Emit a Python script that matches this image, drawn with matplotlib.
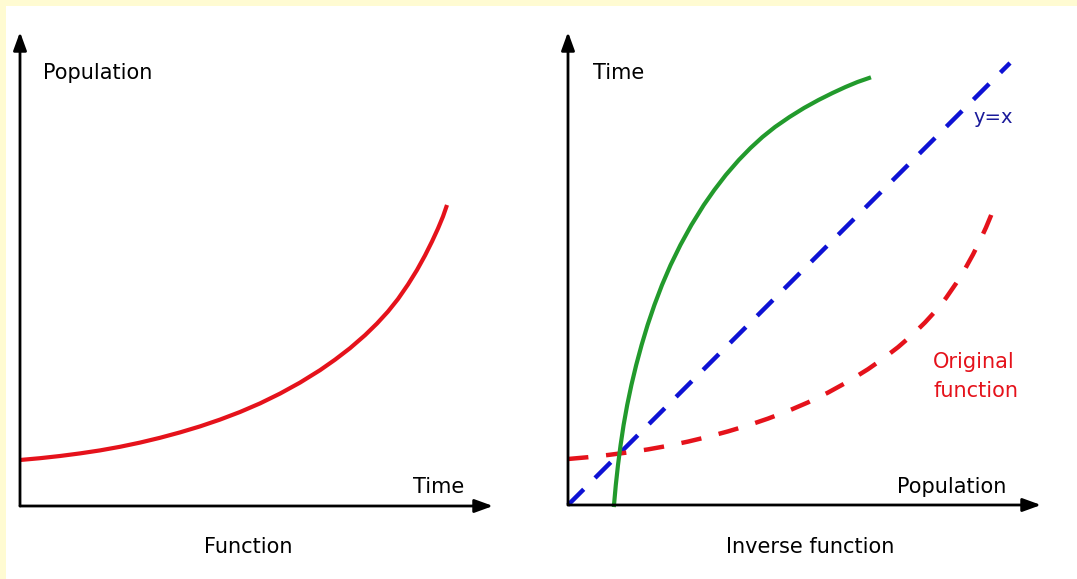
import matplotlib
matplotlib.use('Agg')
import matplotlib.pyplot as plt
from matplotlib.patches import Rectangle

# values (units ~ pixels from the origin)
time_vals = [0, 20, 40, 60, 80, 100, 120, 140, 160, 180, 200, 220, 240, 260, 280, 300,
             315, 330, 345, 357, 368, 378, 388, 397, 405, 412, 418, 423, 427]
population_vals = [46, 47.8, 50, 52.6, 55.6, 59.2, 63.4, 68.2, 73.6, 79.6, 86.4, 94, 102.6,
                   112.4, 123.4, 135.8, 146.3, 157.8, 170.8, 182.5, 194.5, 207, 221.5, 236,
                   250.5, 264.5, 277.5, 289.5, 301]
identity_x = [0, 442]
identity_y = [0, 442]

red = '#E5121B'
green = '#229A2C'
blue = '#0E12D4'
W, H = 1077, 579

fig = plt.figure(figsize=(W / 100, H / 100), dpi=100)
fig.patch.set_facecolor('#FFFBD2')
fig.add_artist(Rectangle((6 / W, 0), 1, 1 - 6 / H, transform=fig.transFigure,
                         facecolor='white', edgecolor='none', zorder=0))


def px_axes(x0, y0, w, h):
    # axes placed by pixel position of its origin (bottom-left)
    ax = fig.add_axes([x0 / W, 1 - y0 / H, w / W, h / H])
    ax.set_xlim(0, w)
    ax.set_ylim(0, h)
    ax.axis('off')
    ax.patch.set_alpha(0)
    return ax


def draw_arrows(ax, w, h):
    style = dict(arrowstyle='-|>,head_length=1.1,head_width=0.4', lw=2,
                 color='black', shrinkA=0, shrinkB=0)
    ax.annotate('', xy=(w, 0), xytext=(0, 0), arrowprops=style, annotation_clip=False)
    ax.annotate('', xy=(0, h), xytext=(0, 0), arrowprops=style, annotation_clip=False)


def label(x, y, s, size=15, **kw):
    fig.text(x / W, 1 - y / H, s, fontsize=size, va='baseline', **kw)


# left panel: the function
ax1 = px_axes(20, 506, 473, 474)
draw_arrows(ax1, 473, 474)
ax1.plot(time_vals, population_vals, color=red, lw=3, solid_capstyle='butt', clip_on=False)

# right panel: the inverse
ax2 = px_axes(568, 505, 473, 473)
draw_arrows(ax2, 473, 473)
ax2.plot(identity_x, identity_y, color=blue, lw=3.2, linestyle=(0, (5, 3.6)), clip_on=False)
ax2.plot(time_vals, population_vals, color=red, lw=3.2, linestyle=(0, (4.6, 4)), clip_on=False)
ax2.plot(population_vals, time_vals, color=green, lw=3, clip_on=False)

label(43, 79, 'Population')
label(413, 493, 'Time')
label(248, 553, 'Function', ha='center')
label(593, 79, 'Time')
label(897, 493, 'Population')
label(810, 553, 'Inverse function', ha='center')
label(973, 123, 'y=x', size=14, color='#1A1A9A')
label(933, 368, 'Original', color=red)
label(933, 397, 'function', color=red)

fig.savefig('out.png', dpi=100, facecolor=fig.get_facecolor())
